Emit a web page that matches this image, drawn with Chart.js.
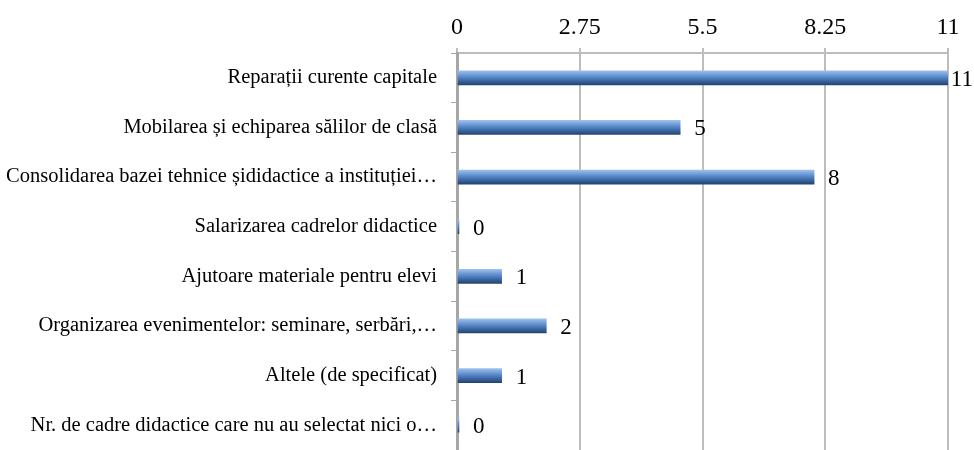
<!DOCTYPE html>
<html>
<head>
<meta charset="utf-8">
<script src="https://cdn.jsdelivr.net/npm/chart.js@4.4.1/dist/chart.umd.min.js"></script>
<style>
  html, body { margin: 0; padding: 0; background: #fff; }
  #wrap { width: 974px; height: 450px; }
</style>
</head>
<body>
<div id="wrap"><canvas id="chart"></canvas></div>
<script>
const categories = [
  "Reparații curente capitale",
  "Mobilarea și echiparea sălilor de clasă",
  "Consolidarea bazei tehnice șididactice a instituției…",
  "Salarizarea cadrelor didactice",
  "Ajutoare materiale pentru elevi",
  "Organizarea evenimentelor: seminare, serbări,…",
  "Altele (de specificat)",
  "Nr. de cadre didactice care nu au selectat nici o…"
];
const values = [11, 5, 8, 0, 1, 2, 1, 0];
const xTicks = [0, 2.75, 5.5, 8.25, 11];

const SERIF = '"Liberation Serif", "Times New Roman", serif';
const BAR_H = 14;

function barGradient(ctx) {
  const chart = ctx.chart;
  const y = chart.scales && chart.scales.y;
  if (!chart.chartArea || !y) return "#4f81bd";
  const cy = y.getPixelForValue(ctx.dataIndex);
  const g = chart.ctx.createLinearGradient(0, cy - BAR_H / 2, 0, cy + BAR_H / 2);
  g.addColorStop(0, "#9cc0ec");
  g.addColorStop(0.3, "#6d9ad6");
  g.addColorStop(0.65, "#3f6fae");
  g.addColorStop(1, "#25446f");
  return g;
}

const valueLabels = {
  id: "valueLabels",
  afterDatasetsDraw(chart) {
    const { ctx } = chart;
    const meta = chart.getDatasetMeta(0);
    ctx.save();
    ctx.font = "23px " + SERIF;
    ctx.fillStyle = "#000";
    ctx.textBaseline = "middle";
    meta.data.forEach((bar, i) => {
      const txt = String(values[i]);
      const w = ctx.measureText(txt).width;
      const x = Math.min(bar.x + 14, chart.width - w - 1);
      ctx.fillText(txt, x, bar.y + 2);
    });
    ctx.restore();
  }
};

new Chart(document.getElementById("chart"), {
  type: "bar",
  data: {
    labels: categories,
    datasets: [{
      data: values,
      backgroundColor: barGradient,
      borderWidth: 0,
      barThickness: BAR_H,
      minBarLength: 2
    }]
  },
  options: {
    indexAxis: "y",
    responsive: true,
    maintainAspectRatio: false,
    animation: false,
    layout: { padding: { right: 26, bottom: 0 } },
    plugins: { legend: { display: false }, tooltip: { enabled: false } },
    scales: {
      x: {
        position: "top",
        min: 0,
        max: 11,
        afterBuildTicks(scale) {
          scale.ticks = xTicks.map((v) => ({ value: v }));
        },
        afterFit(scale) {
          scale.height = 53;
          scale.paddingLeft = 0;
          scale.paddingRight = 0;
        },
        grid: { color: "#bdbdbd", lineWidth: 2, tickLength: 5, tickColor: "#bdbdbd" },
        border: { color: "#bdbdbd", width: 2 },
        ticks: {
          color: "#000",
          padding: 6,
          maxRotation: 0,
          font: { family: SERIF, size: 24 },
          callback: (v) => String(v)
        }
      },
      y: {
        afterFit(scale) {
          scale.width = 457;
          scale.paddingTop = 0;
          scale.paddingBottom = 0;
        },
        grid: { drawOnChartArea: false, tickLength: 6, color: "#a6a6a6", lineWidth: 1 },
        border: { color: "#a6a6a6", width: 3 },
        ticks: {
          color: "#000",
          padding: 14,
          autoSkip: false,
          font: { family: SERIF, size: 20.5 }
        }
      }
    }
  },
  plugins: [valueLabels]
});
</script>
</body>
</html>
